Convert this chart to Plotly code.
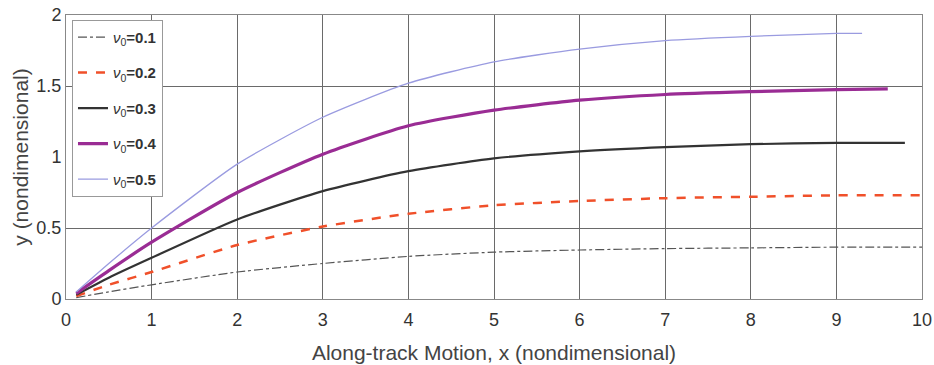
import plotly.graph_objects as go

# Sample points along each trajectory (along-track x, cross-track y)
x_pts = [0.12, 0.5, 1, 2, 3, 4, 5, 6, 7, 8, 9]

y_nu01 = [0.01, 0.05, 0.10, 0.19, 0.25, 0.30, 0.33, 0.345, 0.355, 0.36, 0.365]
y_nu02 = [0.02, 0.10, 0.19, 0.38, 0.51, 0.60, 0.66, 0.69, 0.71, 0.72, 0.73]
y_nu03 = [0.03, 0.15, 0.29, 0.56, 0.76, 0.90, 0.99, 1.04, 1.07, 1.09, 1.10]
y_nu04 = [0.04, 0.20, 0.40, 0.75, 1.02, 1.22, 1.33, 1.40, 1.44, 1.46, 1.475]
y_nu05 = [0.05, 0.25, 0.50, 0.95, 1.28, 1.52, 1.67, 1.76, 1.82, 1.85, 1.87]

# Final x-position and y-value reached by each trajectory
x_end = [10.0, 10.0, 9.8, 9.6, 9.3]
y_end = [0.365, 0.73, 1.10, 1.48, 1.87]

labels = ["0.1", "0.2", "0.3", "0.4", "0.5"]
series = [y_nu01, y_nu02, y_nu03, y_nu04, y_nu05]
styles = [
    dict(color="#555555", width=1.2, dash="dashdot"),
    dict(color="#f0502a", width=2.5, dash="dash"),
    dict(color="#333333", width=2.2, dash="solid"),
    dict(color="#9a2c94", width=3.2, dash="solid"),
    dict(color="#9a9be0", width=1.3, dash="solid"),
]

y_ticks = [0, 0.5, 1, 1.5, 2]
y_ticktext = ["0", "0.5", "1", "1.5", "2"]

fig = go.Figure()
for lab, ys, xe, ye, st in zip(labels, series, x_end, y_end, styles):
    fig.add_trace(go.Scatter(
        x=x_pts + [xe], y=ys + [ye], mode="lines",
        line=dict(shape="spline", smoothing=0.6, **st),
        legendgroup=lab,
        name=f"<i>ν</i><sub>0</sub><b>={lab}</b>",
    ))

grid_dark = "#6a6a6a"
grid_light = "#b8b8b8"
tick_font = dict(family="Liberation Sans, Arial, sans-serif", size=18, color="#333333")
title_font = dict(family="Liberation Sans, Arial, sans-serif", size=21, color="#444444")

fig.update_layout(
    width=934, height=365,
    margin=dict(l=66, r=12, t=15, b=66),
    paper_bgcolor="white", plot_bgcolor="white",
    font=dict(family="Liberation Sans, Arial, sans-serif", size=15, color="#333333"),
    showlegend=True,
    legend=dict(
        x=0.007, y=0.983, xanchor="left", yanchor="top",
        bgcolor="white", bordercolor="#999999", borderwidth=1,
        font=dict(size=15, color="#333333"),
        tracegroupgap=13, itemwidth=30,
    ),
    xaxis=dict(
        range=[0, 10], dtick=1, showgrid=True, gridcolor=grid_dark, gridwidth=1,
        showline=True, linecolor="#888888", mirror=True, zeroline=False,
        automargin=False, ticks="", tickfont=tick_font, ticklabelstandoff=4,
        title=dict(text="Along-track Motion, x (nondimensional)",
                   font=title_font, standoff=16),
    ),
    yaxis=dict(
        range=[0, 2], tickmode="array", tickvals=y_ticks, ticktext=y_ticktext,
        showgrid=False,
        minor=dict(tickmode="array", tickvals=[0.5, 1.5], showgrid=True,
                   gridcolor=grid_dark, gridwidth=1.3, ticks=""),
        showline=True, linecolor="#888888", mirror=True, zeroline=False,
        automargin=False, ticks="", tickfont=tick_font,
        title=dict(text="y (nondimensional)", font=title_font, standoff=2),
    ),
    # lighter reference line at y = 1
    yaxis2=dict(
        range=[0, 2], overlaying="y", side="left", tickmode="array", tickvals=[1],
        showgrid=True, gridcolor=grid_light, gridwidth=1,
        showticklabels=False, showline=False, zeroline=False, automargin=False,
    ),
)

fig.write_html("out.html")
